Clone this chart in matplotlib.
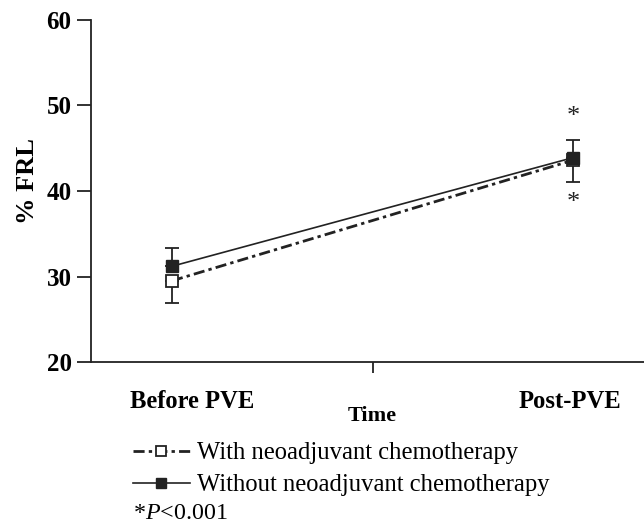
import matplotlib
matplotlib.use('Agg')
import matplotlib.pyplot as plt
from matplotlib.transforms import blended_transform_factory

plt.rcParams['font.family'] = ['Liberation Serif', 'DejaVu Serif']
plt.rcParams['mathtext.fontset'] = 'custom'
plt.rcParams['mathtext.rm'] = 'Liberation Serif'
plt.rcParams['mathtext.it'] = 'Liberation Serif:italic'

# data
times = ['Before PVE', 'Post-PVE']
with_chemo = [29.5, 43.6]
with_chemo_err_low = [2.6, 2.5]
without_chemo = [31.2, 43.9]
without_chemo_err_up = [2.1, 2.1]
star_upper = 48.6
star_lower = 38.6

x = [0, 1]

fig = plt.figure(figsize=(6.44, 5.23), dpi=100)
ax = fig.add_axes([0.1413, 0.3078, 0.8587, 0.654])

ax.errorbar(x, without_chemo, yerr=[[0, 0], without_chemo_err_up],
            fmt='none', ecolor='#222222', elinewidth=1.3, capsize=5, capthick=1.3, zorder=2)
ax.errorbar(x, with_chemo, yerr=[with_chemo_err_low, [0, 0]],
            fmt='none', ecolor='#222222', elinewidth=1.3, capsize=5, capthick=1.3, zorder=2)

l1, = ax.plot(x, with_chemo, color='#222222', lw=2.0, ls=(0, (4, 1.5, 1.2, 1.5)),
              marker='s', markersize=8, markerfacecolor='white', markeredgecolor='#222222',
              markeredgewidth=1.3, zorder=3, label='With neoadjuvant chemotherapy')
l2, = ax.plot(x, without_chemo, color='#222222', lw=1.2, ls='-',
              marker='s', markersize=8, markerfacecolor='#222222', markeredgecolor='#222222',
              zorder=4, label='Without neoadjuvant chemotherapy')

ax.text(1, star_upper, '*', ha='center', va='center', fontsize=19, color='#222222')
ax.text(1, star_lower, '*', ha='center', va='center', fontsize=19, color='#222222')

ax.set_xlim(-0.202, 1.177)
ax.set_ylim(20, 60)
ax.set_yticks([20, 30, 40, 50, 60])
ax.set_xticks([0.5])
ax.set_xticklabels([''])
ax.spines['top'].set_visible(False)
ax.spines['right'].set_visible(False)
for s in ['left', 'bottom']:
    ax.spines[s].set_linewidth(1.3)
    ax.spines[s].set_color('#222222')
ax.tick_params(axis='y', direction='out', length=10, width=1.3, labelsize=18, pad=4, color='#222222')
ax.tick_params(axis='x', direction='out', length=8, width=1.3, color='#222222')
for t in ax.get_yticklabels():
    t.set_fontweight('bold')

ax.set_ylabel('% FRL', fontsize=19, fontweight='bold')
ax.yaxis.set_label_coords(-0.094, 0.53)

trans = blended_transform_factory(ax.transData, fig.transFigure)
ax.text(0.05, 1 - 401 / 523, times[0], transform=trans, ha='center', va='center',
        fontsize=17.7, fontweight='bold')
ax.text(0.992, 1 - 401 / 523, times[1], transform=trans, ha='center', va='center',
        fontsize=17.7, fontweight='bold')
ax.text(0.5, 1 - 416 / 523, 'Time', transform=trans, ha='center', va='center',
        fontsize=16, fontweight='bold')

fig.legend(handles=[l1, l2], loc='upper left', bbox_to_anchor=(133 / 644, 1 - 442 / 523),
           frameon=False, fontsize=17.7, handlelength=2.3, handletextpad=0.3,
           labelspacing=0.4, markerscale=0.9, borderaxespad=0, borderpad=0)
fig.text(133 / 644, 1 - 519 / 523, '*$\\it{P}$<0.001', ha='left', va='baseline', fontsize=17.3)

fig.savefig('out.png', dpi=100)
